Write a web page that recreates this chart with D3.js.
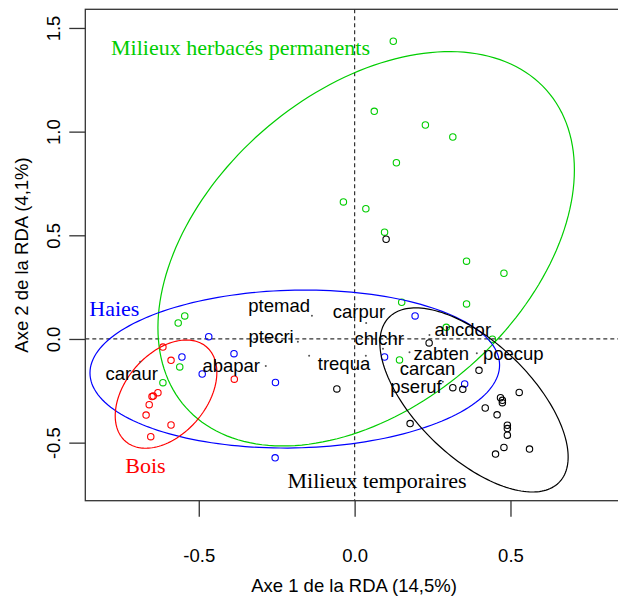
<!DOCTYPE html>
<html>
<head>
<meta charset="utf-8">
<script src="https://cdn.jsdelivr.net/npm/d3@7"></script>
<style>
  body { margin: 0; background: white; }
</style>
</head>
<body>
<div id="rda-container"></div>
<script>
// groups (habitats) and their colours
const groups = ["Milieux herbacés permanents", "Haies", "Bois", "Milieux temporaires"];
const groupColors = ["#00CD00", "#0000FF", "#FF0000", "#000000"];

// site scores, one pair of arrays per group
const herbX = [0.124, 0.063, 0.227, 0.315, 0.134, -0.036, 0.036, 0.096, 0.359, 0.479,
  0.151, 0.359, 0.294, 0.442, 0.144, -0.545, -0.566, -0.561, -0.615];
const herbY = [1.436, 1.098, 1.032, 0.974, 0.850, 0.661, 0.628, 0.515, 0.375, 0.317,
  0.177, 0.169, 0.056, -0.001, -0.101, 0.111, 0.077, -0.135, -0.211];

const haiesX = [0.194, 0.096, 0.353, -0.468, -0.554, -0.387, -0.489, -0.254, -0.255];
const haiesY = [0.111, -0.087, -0.217, 0.011, -0.087, -0.071, -0.169, -0.210, -0.573];

const boisX = [-0.615, -0.589, -0.386, -0.631, -0.646, -0.650, -0.659, -0.669, -0.589, -0.654];
const boisY = [-0.039, -0.103, -0.194, -0.259, -0.275, -0.278, -0.317, -0.367, -0.415, -0.471];

const tempX = [0.101, 0.239, 0.399, -0.057, 0.315, 0.347, 0.528, 0.468, 0.474, 0.474,
  0.419, 0.457, 0.178, 0.490, 0.490, 0.490, 0.479, 0.561, 0.452];
const tempY = [0.481, -0.019, -0.151, -0.241, -0.235, -0.243, -0.258, -0.283, -0.296, -0.307,
  -0.333, -0.366, -0.408, -0.416, -0.432, -0.464, -0.523, -0.531, -0.555];

// ellipse for each group: centre, spread on each axis, correlation
const ellCx = [0.037, -0.192, -0.605, 0.383];
const ellCy = [0.435, -0.145, -0.266, -0.294];
const ellSx = [0.668, 0.657, 0.163, 0.302];
const ellSy = [0.951, 0.381, 0.261, 0.444];
const ellR  = [0.40, 0.05, 0.40, -0.62];

// group label positions (centre, baseline)
const groupLabelX = [-0.366, -0.771, -0.671, 0.072];
const groupLabelY = [1.370, 0.111, -0.645, -0.720];

// species scores and their label positions
const speciesNames = ["ptemad", "carpur", "ptecri", "chlchr", "carcan", "trequa",
  "abapar", "caraur", "ancdor", "zabten", "poecup", "pseruf"];
const speciesX = [-0.137, 0.037, -0.182, 0.091, -0.146, 0.036, -0.285, -0.688, 0.240, 0.176, 0.392, 0.283];
const speciesY = [0.112, 0.077, -0.013, -0.047, -0.081, -0.081, -0.130, -0.110, 0.019, -0.064, -0.069, -0.206];
const labelX = [-0.242, 0.014, -0.268, 0.079, 0.234, -0.034, -0.396, -0.715, 0.347, 0.278, 0.509, 0.197];
const labelY = [0.132, 0.101, -0.019, -0.029, -0.174, -0.150, -0.158, -0.198, 0.015, -0.101, -0.101, -0.260];

// axis ticks
const xTicks = [-0.5, 0, 0.5];
const xTickLabels = ["-0.5", "0.0", "0.5"];
const yTicks = [-0.5, 0, 0.5, 1, 1.5];
const yTickLabels = ["-0.5", "0.0", "0.5", "1.0", "1.5"];

const siteX = [herbX, haiesX, boisX, tempX];
const siteY = [herbY, haiesY, boisY, tempY];

// set the dimensions and margins of the graph
const margin = {top: 9.3, right: -4.7, bottom: 98.3, left: 85.3},
  width = 618 - margin.left - margin.right,
  height = 599 - margin.top - margin.bottom;

const sans = "'Liberation Sans', Arial, sans-serif";
const serif = "'Liberation Serif', 'Times New Roman', serif";
const axisCol = "#333";

const svg = d3.select("#rda-container")
  .append("svg")
  .attr("width", 618)
  .attr("height", 599)
  .append("g")
  .attr("transform", `translate(${margin.left},${margin.top})`);

const x = d3.scaleLinear().domain([-0.864, 0.860]).range([0, width]);
const y = d3.scaleLinear().domain([-0.780, 1.590]).range([height, 0]);

// dashed zero lines
svg.append("line")
  .attr("x1", 0).attr("x2", width)
  .attr("y1", y(0)).attr("y2", y(0))
  .attr("stroke", axisCol).attr("stroke-width", 1.2)
  .attr("stroke-dasharray", "4,3");
svg.append("line")
  .attr("x1", x(0)).attr("x2", x(0))
  .attr("y1", 0).attr("y2", height)
  .attr("stroke", axisCol).attr("stroke-width", 1.2)
  .attr("stroke-dasharray", "4,3");

// X axis
const xAxis = svg.append("g")
  .attr("transform", `translate(0,${height})`)
  .call(d3.axisBottom(x).tickValues(xTicks).tickSize(16)
    .tickFormat((d, i) => xTickLabels[i]));
xAxis.select(".domain").remove();
xAxis.selectAll("line").attr("stroke", axisCol).attr("stroke-width", 1.3);
xAxis.selectAll("text")
  .attr("y", 61).attr("dy", 0)
  .style("font-family", sans).style("font-size", "18.5px").style("fill", "#000");

// Y axis with rotated labels
const yAxis = svg.append("g")
  .call(d3.axisLeft(y).tickValues(yTicks).tickSize(16)
    .tickFormat((d, i) => yTickLabels[i]));
yAxis.select(".domain").remove();
yAxis.selectAll("line").attr("stroke", axisCol).attr("stroke-width", 1.3);
yAxis.selectAll("text")
  .attr("transform", "rotate(-90)")
  .attr("x", 0).attr("y", -25.3).attr("dy", 0)
  .attr("text-anchor", "middle")
  .style("font-family", sans).style("font-size", "18.5px").style("fill", "#000");

// axis titles
svg.append("text")
  .attr("x", width / 2)
  .attr("y", height + 91.5)
  .attr("text-anchor", "middle")
  .style("font-family", sans).style("font-size", "18.5px")
  .text("Axe 1 de la RDA (14,5%)");
svg.append("text")
  .attr("transform", "rotate(-90)")
  .attr("x", -height / 2)
  .attr("y", -57.5)
  .attr("text-anchor", "middle")
  .style("font-family", sans).style("font-size", "18.5px")
  .text("Axe 2 de la RDA (4,1%)");

// site points
groups.forEach((g, k) => {
  svg.append("g").selectAll("circle")
    .data(siteX[k].map((v, i) => [v, siteY[k][i]]))
    .join("circle")
    .attr("cx", d => x(d[0]))
    .attr("cy", d => y(d[1]))
    .attr("r", 3.2)
    .attr("fill", "none")
    .attr("stroke", groupColors[k])
    .attr("stroke-width", 1.1);
});

// group ellipses
const line = d3.line().x(d => x(d[0])).y(d => y(d[1])).curve(d3.curveLinearClosed);
groups.forEach((g, k) => {
  const r = ellR[k], s = Math.sqrt(1 - r * r);
  const pts = d3.range(0, 180).map(i => {
    const t = 2 * Math.PI * i / 180;
    return [ellCx[k] + ellSx[k] * Math.cos(t),
            ellCy[k] + ellSy[k] * (r * Math.cos(t) + s * Math.sin(t))];
  });
  svg.append("path")
    .attr("d", line(pts))
    .attr("fill", "none")
    .attr("stroke", groupColors[k])
    .attr("stroke-width", 1.2);
});

// species dots and labels
svg.append("g").selectAll("circle")
  .data(speciesNames)
  .join("circle")
  .attr("cx", (d, i) => x(speciesX[i]))
  .attr("cy", (d, i) => y(speciesY[i]))
  .attr("r", 1)
  .attr("fill", "#555");

svg.append("g").selectAll("text")
  .data(speciesNames)
  .join("text")
  .attr("x", (d, i) => x(labelX[i]))
  .attr("y", (d, i) => y(labelY[i]))
  .attr("text-anchor", "middle")
  .style("font-family", sans).style("font-size", "18.5px")
  .text(d => d);

// group labels
svg.append("g").selectAll("text")
  .data(groups)
  .join("text")
  .attr("x", (d, i) => x(groupLabelX[i]))
  .attr("y", (d, i) => y(groupLabelY[i]))
  .attr("text-anchor", "middle")
  .style("font-family", serif).style("font-size", "22px")
  .style("fill", (d, i) => groupColors[i])
  .text(d => d);

// box round the plot
svg.append("rect")
  .attr("x", 0).attr("y", 0)
  .attr("width", width).attr("height", height)
  .attr("fill", "none")
  .attr("stroke", axisCol)
  .attr("stroke-width", 1.3);
</script>
</body>
</html>
